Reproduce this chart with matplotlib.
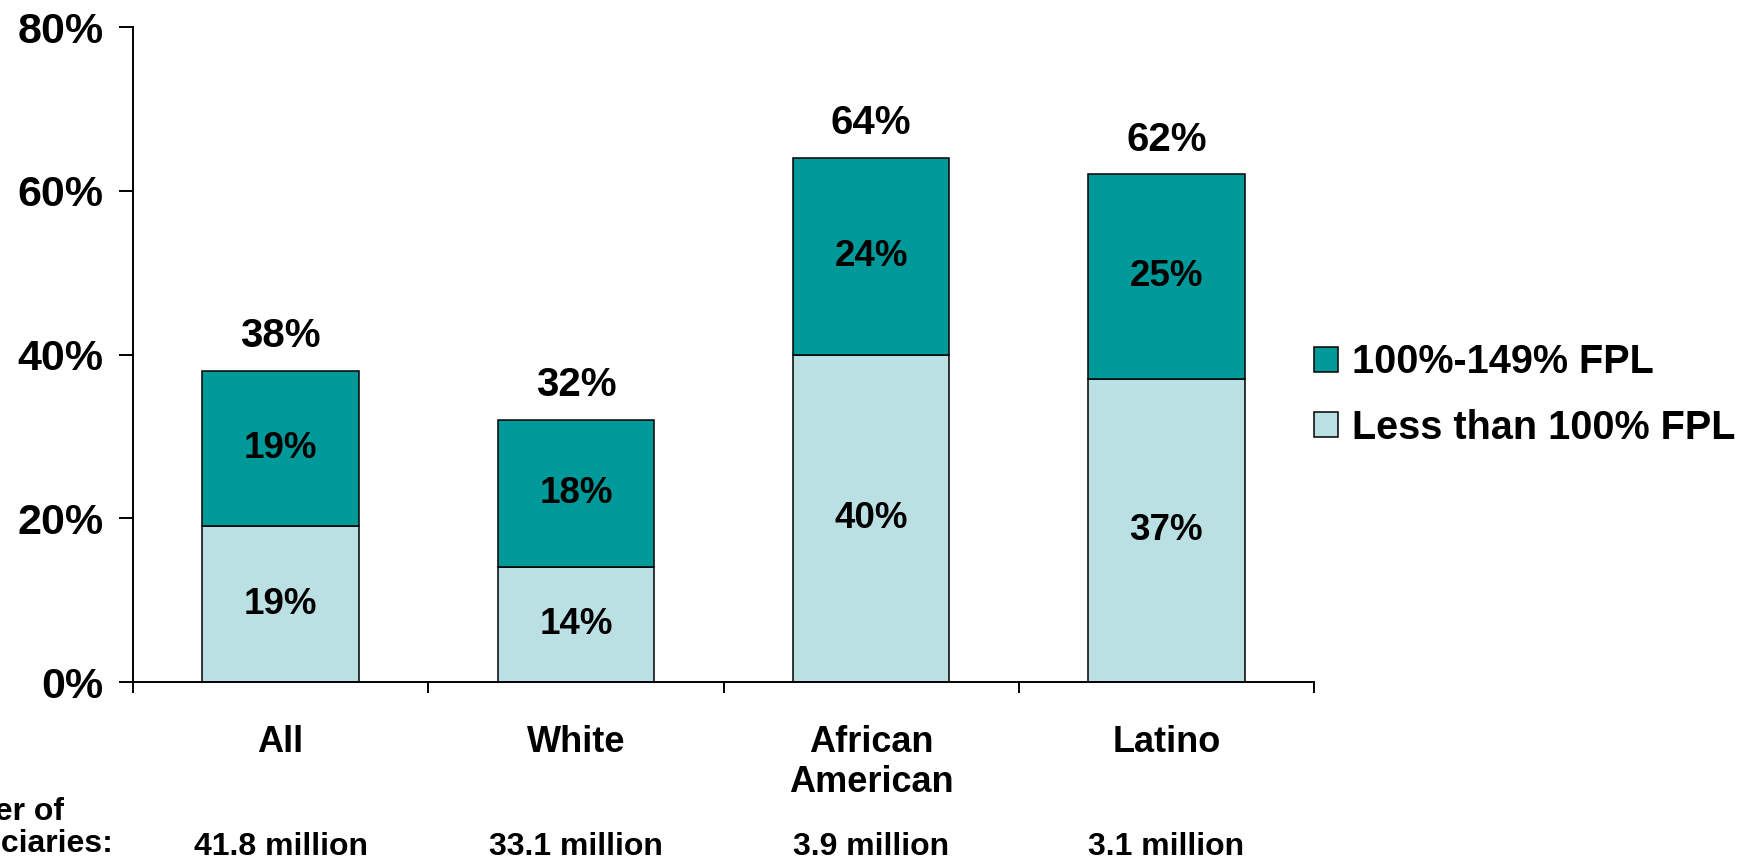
import numpy as np
import matplotlib
matplotlib.use("Agg")
import matplotlib.pyplot as plt
import matplotlib.transforms as mtransforms


# data
categories = ["All", "White", "African\nAmerican", "Latino"]
below_100 = [19, 14, 40, 37]
from_100_to_149 = [19, 18, 24, 25]
beneficiaries = ["41.8 million", "33.1 million", "3.9 million", "3.1 million"]
series_labels = ["100%-149% FPL", "Less than 100% FPL"]
y_ticks = [0, 20, 40, 60, 80]

dark_teal = "#009999"
light_teal = "#BBE0E3"

plt.rcParams["font.family"] = ["Liberation Sans", "DejaVu Sans"]
plt.rcParams["font.weight"] = "bold"

fig = plt.figure(figsize=(17.46, 8.61), dpi=100)
ax = fig.add_axes([133 / 1746, 1 - 682 / 861, (1314 - 133) / 1746, (682 - 27) / 861])

x = np.arange(len(categories))
low = np.array(below_100)
high = np.array(from_100_to_149)
totals = low + high

bars_low = ax.bar(x, low, width=0.53, color=light_teal, edgecolor="black", linewidth=1.1,
                  label=series_labels[1], zorder=2)
bars_high = ax.bar(x, high, bottom=low, width=0.53, color=dark_teal, edgecolor="black",
                   linewidth=1.1, label=series_labels[0], zorder=2)

# segment labels
for xi, lo, hi in zip(x, low, high):
    ax.text(xi, lo / 2, f"{lo}%", ha="center", va="center", fontsize=26.5, fontweight="bold")
    ax.text(xi, lo + hi / 2, f"{hi}%", ha="center", va="center", fontsize=26.5, fontweight="bold")

# total labels
for xi, t in zip(x, totals):
    ax.annotate(f"{t}%", (xi, t), xytext=(0, 17), textcoords="offset points",
                ha="center", va="baseline", fontsize=29, fontweight="bold")

ax.set_xlim(-0.5, len(categories) - 0.5)
ax.set_ylim(0, 80)
ax.set_yticks(y_ticks)
ax.set_yticklabels([f"{v}%" for v in y_ticks], fontsize=31, fontweight="bold")
ax.tick_params(axis="y", direction="out", length=10, width=1.4, pad=11)

ax.set_xticks(x)
ax.set_xticklabels(categories, fontsize=26, fontweight="bold", linespacing=1.2)
ax.tick_params(axis="x", which="major", length=0, pad=31)
ax.set_xticks(np.arange(-0.5, len(categories), 1.0), minor=True)
ax.tick_params(axis="x", which="minor", direction="out", length=8, width=1.4)

for side in ["top", "right"]:
    ax.spines[side].set_visible(False)
for side in ["left", "bottom"]:
    ax.spines[side].set_linewidth(1.4)

# number of beneficiaries row (label runs off the left edge, as in the original slide)
trans = mtransforms.blended_transform_factory(ax.transData, fig.transFigure)
for xi, b in zip(x, beneficiaries):
    ax.text(xi, 1 - 855 / 861, b, transform=trans, ha="center", va="baseline",
            fontsize=23, fontweight="bold")
fig.text(-96 / 1746, 1 - 852 / 861, "Number of\nBeneficiaries:", ha="left", va="baseline",
         fontsize=23, fontweight="bold", linespacing=1.1)

# legend
handles = [bars_high, bars_low]
ax.legend(handles, series_labels, loc="center left", bbox_to_anchor=(1314 / 1746, 1 - 395 / 861),
          bbox_transform=fig.transFigure, frameon=False, fontsize=28.5,
          handlelength=0.6, handleheight=0.6, handletextpad=0.35, labelspacing=0.7,
          borderpad=0, borderaxespad=0)

fig.savefig("out.png", dpi=100)
